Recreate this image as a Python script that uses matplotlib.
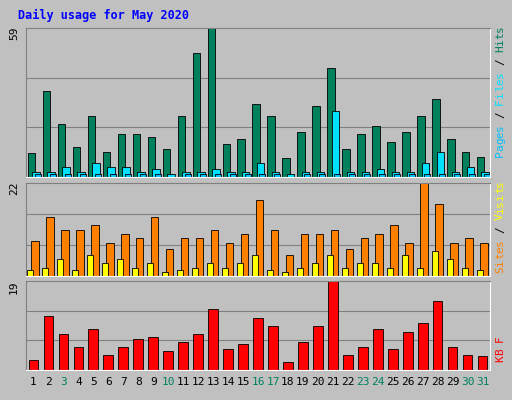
import matplotlib as mpl
mpl.use('Agg')
import matplotlib.pyplot as plt
import numpy as np

days = list(range(1, 32))
green_days = [3, 10, 16, 17, 23, 24, 30, 31]

hits = [9.5, 34, 21, 12, 24, 10, 17, 17, 16, 11, 24, 49, 59, 13, 15, 29,
        24, 7.5, 18, 28, 43, 11, 17, 20, 14, 18, 24, 31, 15, 10, 8]
files = [2, 2, 4, 2, 5.5, 4, 4, 2, 3, 1, 2, 2, 3, 2, 2, 5.5,
         2, 1, 2, 2, 26, 2, 2, 3, 2, 2, 5.5, 10, 2, 4, 2]
pages = [1, 1, 1, 1, 1, 1, 1, 1, 1, 0, 1, 1, 1, 1, 1, 1,
         1, 0, 1, 1, 1, 1, 1, 1, 1, 1, 1, 1, 1, 1, 1]
visits = [8.2, 14, 11, 11, 12, 7.7, 10, 9, 14, 6.3, 9, 9, 11, 7.7, 10, 18,
          11, 5, 10, 10, 11, 6.3, 9, 10, 12, 7.7, 22, 17, 7.7, 9, 7.7]
sites = [1.5, 2, 4, 1.5, 5, 3, 4, 2, 3, 1, 1.5, 2, 3, 2, 3, 5,
         1.5, 1, 2, 3, 5, 2, 3, 3, 2, 5, 2, 6, 4, 2, 1.5]
kbytes = [2.2, 11.5, 7.7, 5, 8.8, 3.3, 5, 6.6, 7, 4, 6, 7.7, 13, 4.4, 5.5, 11,
          9.3, 1.8, 6, 9.3, 19, 3.3, 5, 8.8, 4.4, 8.2, 10, 14.8, 5, 3.3, 2.9]

W, H = 512, 400
fig = plt.figure(figsize=(W / 100, H / 100), dpi=100)
fig.patch.set_facecolor('#c0c0c0')

def make_ax(x0, y0, x1, y1):
    ax = fig.add_axes([x0 / W, 1 - y1 / H, (x1 - x0) / W, (y1 - y0) / H])
    ax.set_facecolor('#c0c0c0')
    ax.set_xlim(0.5, 31.5)
    ax.set_xticks([])
    ax.set_yticks([])
    for s in ax.spines.values():
        s.set_color('#808080')
    ax.spines['bottom'].set_color('white')
    ax.spines['right'].set_color('white')
    return ax

x = np.array(days)
mono = 'DejaVu Sans Mono'

ax1 = make_ax(26, 28, 490, 177)
ax1.set_ylim(0, 59)
for g in (59 / 3, 2 * 59 / 3):
    ax1.axhline(g, color='#808080', lw=0.8, zorder=0)
ax1.bar(x - 0.12, hits, width=0.5, color='#00805c', edgecolor='black', lw=0.6)
ax1.bar(x + 0.18, files, width=0.5, color='#00e0ff', edgecolor='black', lw=0.6)
ax1.bar(x + 0.3, pages, width=0.4, color='#00c0ff', edgecolor='black', lw=0.6)

ax2 = make_ax(26, 183, 490, 276)
ax2.set_ylim(0, 22)
for g in (22 / 3, 44 / 3):
    ax2.axhline(g, color='#808080', lw=0.8, zorder=0)
ax2.bar(x + 0.1, visits, width=0.5, color='#ff8000', edgecolor='black', lw=0.6)
ax2.bar(x - 0.2, sites, width=0.4, color='#ffff00', edgecolor='black', lw=0.6)

ax3 = make_ax(26, 281, 490, 370)
ax3.set_ylim(0, 19)
for g in (19 / 3, 38 / 3):
    ax3.axhline(g, color='#808080', lw=0.8, zorder=0)
ax3.bar(x, kbytes, width=0.65, color='#ff0000', edgecolor='black', lw=0.6)

for d in days:
    ax3.text(d, -0.08, str(d), transform=ax3.get_xaxis_transform(), ha='center', va='top',
             fontsize=8, family=mono, color='#00805c' if d in green_days else 'black')

fig.text(18 / W, 1 - 15 / H, 'Daily usage for May 2020', color='#0000ff',
         fontsize=8.5, family=mono, fontweight='bold', va='center')

for y, lab in ((33, '59'), (188, '22'), (287, '19')):
    fig.text(14 / W, 1 - y / H, lab, rotation=90, ha='center', va='center', fontsize=8, family=mono)

def side_label(yc, parts):
    # stacked rotated label reading bottom to top
    n = sum(len(p[0]) for p in parts)
    step = 6.6
    y = yc - n * step / 2
    for txt, col in parts:
        for ch in txt:
            fig.text(500 / W, y / H, ch, rotation=270 if False else 90, ha='center', va='center',
                     fontsize=8, family=mono, color=col)
            y += step

side_label(1 - 0, [])
top_parts = [('Pages', '#00c0ff'), (' / ', 'black'), ('Files', '#00e0ff'), (' / ', 'black'), ('Hits', '#00805c')]
mid_parts = [('Sites', '#ff8000'), (' / ', 'black'), ('Visits', '#ffff00')]
bot_parts = [('KB', '#ff0000'), (' ', 'black'), ('F', '#ff0000')]
for center, parts in ((H - 88, top_parts), (H - 223, mid_parts), (H - 345, bot_parts)):
    side_label(center, parts)

plt.savefig('out.png', dpi=100, facecolor=fig.get_facecolor())
plt.close()
